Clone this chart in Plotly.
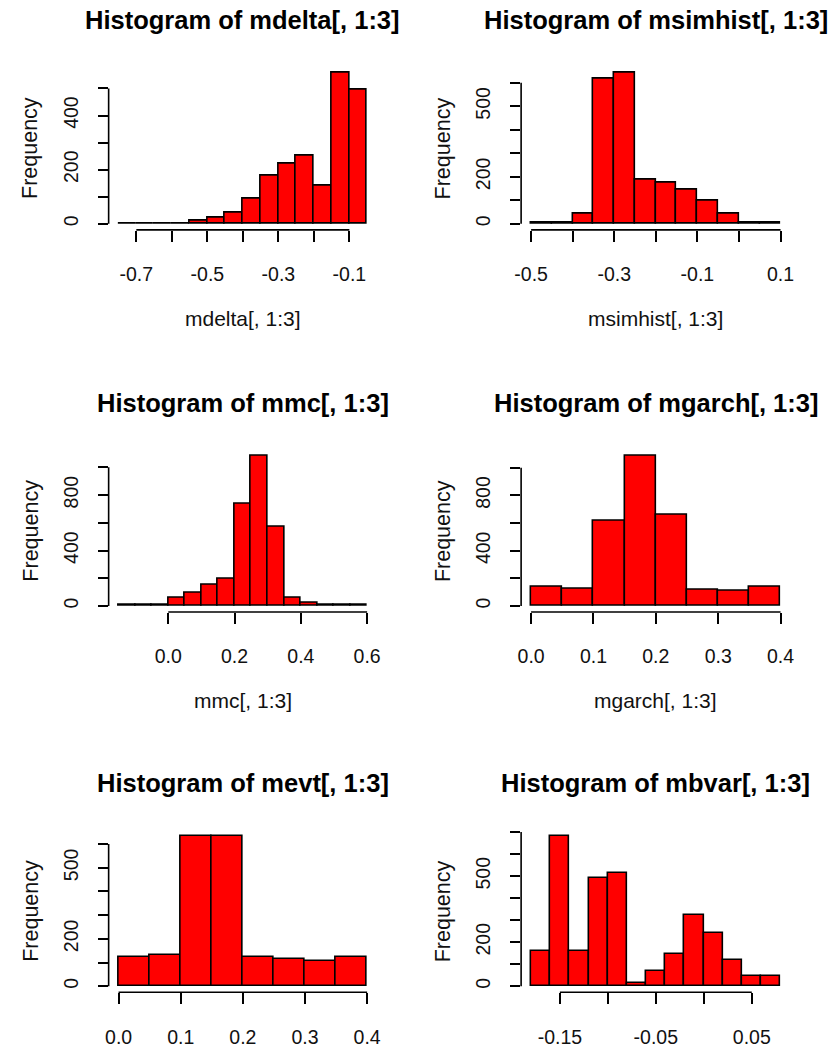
import plotly.graph_objects as go

# ---- histogram data: bin edges and counts for each panel ----
mdelta_breaks = [-0.75, -0.70, -0.65, -0.60, -0.55, -0.50, -0.45, -0.40,
                 -0.35, -0.30, -0.25, -0.20, -0.15, -0.10, -0.05]
mdelta_counts = [2, 1, 1, 2, 13, 22, 43, 94, 178, 221, 251, 140, 558, 494]

msimhist_breaks = [-0.50, -0.45, -0.40, -0.35, -0.30, -0.25, -0.20,
                   -0.15, -0.10, -0.05, 0.00, 0.05, 0.10]
msimhist_counts = [6, 6, 42, 619, 643, 188, 177, 144, 100, 42, 6, 6]

mmc_breaks = [-0.15, -0.10, -0.05, 0.00, 0.05, 0.10, 0.15, 0.20,
              0.25, 0.30, 0.35, 0.40, 0.45, 0.50, 0.55, 0.60]
mmc_counts = [9, 9, 10, 57, 95, 155, 195, 740, 1083, 571, 57, 26, 10, 9, 9]

mgarch_breaks = [0.00, 0.05, 0.10, 0.15, 0.20, 0.25, 0.30, 0.35, 0.40]
mgarch_counts = [141, 124, 613, 1086, 656, 115, 112, 141]

mevt_breaks = [0.00, 0.05, 0.10, 0.15, 0.20, 0.25, 0.30, 0.35, 0.40]
mevt_counts = [123, 130, 634, 634, 123, 113, 105, 123]

mbvar_breaks = [-0.18, -0.16, -0.14, -0.12, -0.10, -0.08, -0.06, -0.04,
                -0.02, 0.00, 0.02, 0.04, 0.06, 0.08]
mbvar_counts = [160, 682, 160, 493, 513, 15, 70, 145, 322, 243, 117, 48, 48]

# ---- axis ticks (values and the labels that are printed) ----
mdelta_xticks = [-0.7, -0.6, -0.5, -0.4, -0.3, -0.2, -0.1]
mdelta_xlabels = ["-0.7", "", "-0.5", "", "-0.3", "", "-0.1"]
mdelta_yticks = [0, 100, 200, 300, 400, 500]
mdelta_ylabels = ["0", "", "200", "", "400", ""]

msimhist_xticks = [-0.5, -0.4, -0.3, -0.2, -0.1, 0.0, 0.1]
msimhist_xlabels = ["-0.5", "", "-0.3", "", "-0.1", "", "0.1"]
msimhist_yticks = [0, 100, 200, 300, 400, 500, 600]
msimhist_ylabels = ["0", "", "200", "", "", "500", ""]

mmc_xticks = [0.0, 0.2, 0.4, 0.6]
mmc_xlabels = ["0.0", "0.2", "0.4", "0.6"]
mmc_yticks = [0, 200, 400, 600, 800, 1000]
mmc_ylabels = ["0", "", "400", "", "800", ""]

mgarch_xticks = [0.0, 0.1, 0.2, 0.3, 0.4]
mgarch_xlabels = ["0.0", "0.1", "0.2", "0.3", "0.4"]
mgarch_yticks = [0, 200, 400, 600, 800, 1000]
mgarch_ylabels = ["0", "", "400", "", "800", ""]

mevt_xticks = [0.0, 0.1, 0.2, 0.3, 0.4]
mevt_xlabels = ["0.0", "0.1", "0.2", "0.3", "0.4"]
mevt_yticks = [0, 100, 200, 300, 400, 500, 600]
mevt_ylabels = ["0", "", "200", "", "", "500", ""]

mbvar_xticks = [-0.15, -0.10, -0.05, 0.00, 0.05]
mbvar_xlabels = ["-0.15", "", "-0.05", "", "0.05"]
mbvar_yticks = [0, 100, 200, 300, 400, 500, 600, 700]
mbvar_ylabels = ["0", "", "200", "", "", "500", "", ""]

panels = [
    ("mdelta[, 1:3]", mdelta_breaks, mdelta_counts, mdelta_xticks, mdelta_xlabels, mdelta_yticks, mdelta_ylabels),
    ("msimhist[, 1:3]", msimhist_breaks, msimhist_counts, msimhist_xticks, msimhist_xlabels, msimhist_yticks, msimhist_ylabels),
    ("mmc[, 1:3]", mmc_breaks, mmc_counts, mmc_xticks, mmc_xlabels, mmc_yticks, mmc_ylabels),
    ("mgarch[, 1:3]", mgarch_breaks, mgarch_counts, mgarch_xticks, mgarch_xlabels, mgarch_yticks, mgarch_ylabels),
    ("mevt[, 1:3]", mevt_breaks, mevt_counts, mevt_xticks, mevt_xlabels, mevt_yticks, mevt_ylabels),
    ("mbvar[, 1:3]", mbvar_breaks, mbvar_counts, mbvar_xticks, mbvar_xlabels, mbvar_yticks, mbvar_ylabels),
]

# ---- page geometry (pixels) ----
W, H = 833, 1048
col_x = [(103, 375), (521, 794)]           # plot-region left/right per column
row_y = [(67, 231), (452, 615), (834, 997)]  # plot-region top/bottom per row

FONT = "Liberation Sans, Arial, sans-serif"
LINE_W = 1.6

fig = go.Figure()
layout = dict(
    width=W, height=H,
    margin=dict(l=0, r=0, t=0, b=0),
    paper_bgcolor="white", plot_bgcolor="white",
    showlegend=False, bargap=0,
    font=dict(family=FONT, size=19, color="black"),
)
annotations = []
shapes = []

for i, (name, breaks, counts, xt, xl, yt, yl) in enumerate(panels):
    r, c = divmod(i, 2)
    x0p, x1p = col_x[c]
    y0p, y1p = row_y[r]
    ax = "" if i == 0 else str(i + 1)
    xa, ya = "x" + ax, "y" + ax

    centers = [(a + b) / 2 for a, b in zip(breaks[:-1], breaks[1:])]
    widths = [b - a for a, b in zip(breaks[:-1], breaks[1:])]
    fig.add_trace(go.Bar(
        x=centers, y=counts, width=widths,
        marker=dict(color="#FF0000", line=dict(color="black", width=LINE_W)),
        xaxis=xa, yaxis=ya, hoverinfo="x+y",
    ))

    # R-style 4% padding around the data range
    xspan = breaks[-1] - breaks[0]
    ymax = max(counts)
    xr = [breaks[0] - 0.04 * xspan, breaks[-1] + 0.04 * xspan]
    yr = [-0.04 * ymax, 1.04 * ymax]

    layout["xaxis" + ax] = dict(
        domain=[x0p / W, x1p / W], range=xr, anchor=ya,
        tickmode="array", tickvals=xt, ticktext=xl,
        ticks="outside", ticklen=11, tickwidth=LINE_W, tickcolor="black",
        showline=False, showgrid=False, zeroline=False,
        tickfont=dict(family=FONT, size=19.5, color="#111"),
        ticklabelstandoff=16, fixedrange=True,
    )
    layout["yaxis" + ax] = dict(
        domain=[1 - y1p / H, 1 - y0p / H], range=yr, anchor=xa,
        tickmode="array", tickvals=yt, ticktext=yl, tickangle=-90,
        ticks="outside", ticklen=10, tickwidth=LINE_W, tickcolor="black",
        showline=False, showgrid=False, zeroline=False,
        tickfont=dict(family=FONT, size=19.5, color="#111"),
        ticklabelstandoff=12, fixedrange=True,
    )

    # axis lines spanning first to last tick only
    shapes.append(dict(type="line", xref=xa, yref=ya + " domain",
                       x0=xt[0], x1=xt[-1], y0=0, y1=0,
                       line=dict(color="black", width=LINE_W)))
    shapes.append(dict(type="line", xref=xa + " domain", yref=ya,
                       x0=0, x1=0, y0=yt[0], y1=yt[-1],
                       line=dict(color="black", width=LINE_W)))

    # main title
    annotations.append(dict(
        text="<b>Histogram of " + name + "</b>", xref="paper", yref="paper",
        x=(x0p + x1p) / 2 / W, y=1 - (y0p - 47) / H,
        xanchor="center", yanchor="middle", showarrow=False,
        font=dict(family=FONT, size=25.5, color="black"),
    ))
    # x-axis title (the bottom row's titles fall below the page)
    if y1p + 100 < H:
        annotations.append(dict(
            text=name, xref="paper", yref="paper",
            x=(x0p + x1p) / 2 / W, y=1 - (y1p + 89) / H,
            xanchor="center", yanchor="middle", showarrow=False,
            font=dict(family=FONT, size=21, color="#111"),
        ))
    # y-axis title
    annotations.append(dict(
        text="Frequency", xref="paper", yref="paper", textangle=-90,
        x=(x0p - 79) / W, y=1 - (y0p + y1p) / 2 / H,
        xanchor="center", yanchor="middle", showarrow=False,
        font=dict(family=FONT, size=21.5, color="#111"),
    ))

layout["annotations"] = annotations
layout["shapes"] = shapes
fig.update_layout(**layout)
fig.write_html("out.html")
